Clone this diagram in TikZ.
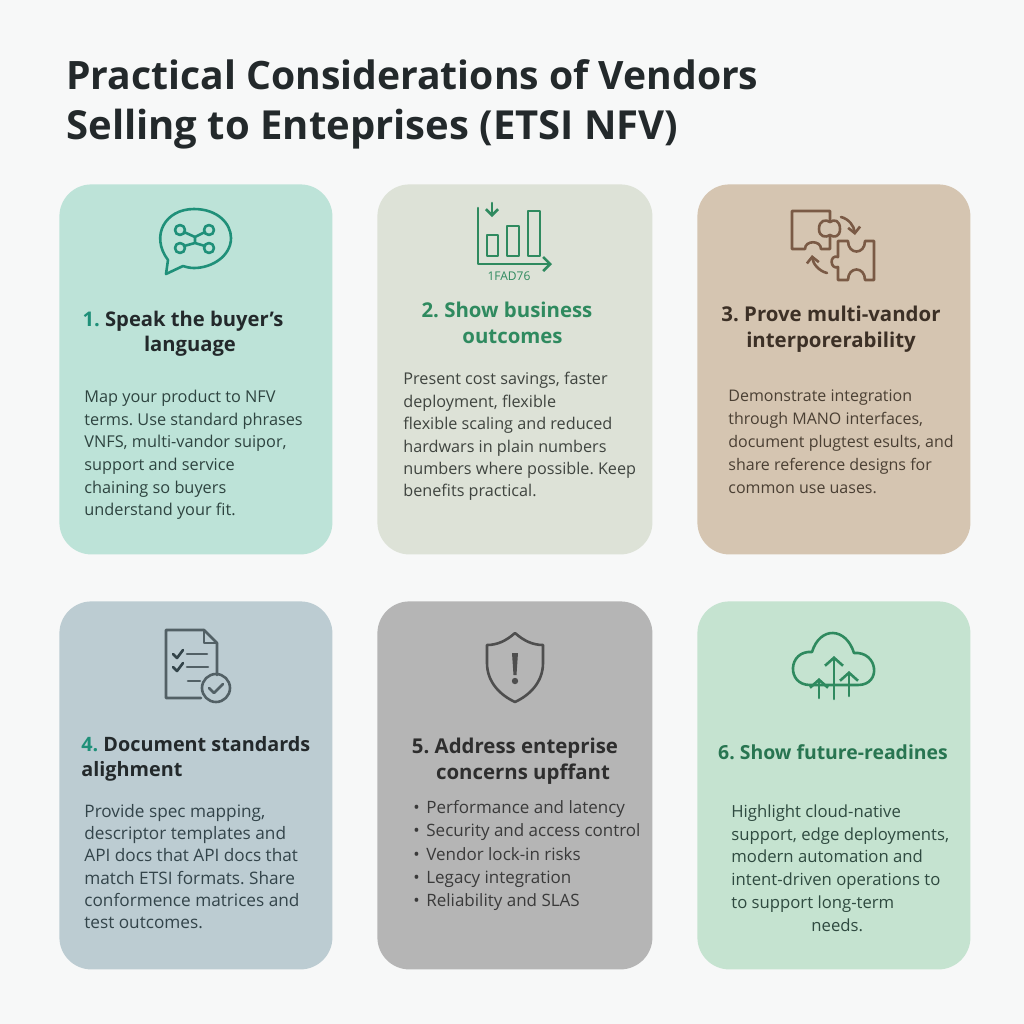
\documentclass[tikz,border=0pt]{standalone}
\usepackage{fontspec}
\setmainfont{Open Sans}
\frenchspacing
\usetikzlibrary{arrows.meta}
\definecolor{pagebg}{HTML}{F7F8F8}
\definecolor{ink}{HTML}{23292B}
\definecolor{cardmint}{HTML}{BDE3D8}
\definecolor{cardsage}{HTML}{DDE2D7}
\definecolor{cardsand}{HTML}{D5C5B1}
\definecolor{cardslate}{HTML}{BCCCD2}
\definecolor{cardgrey}{HTML}{B5B5B5}
\definecolor{cardleaf}{HTML}{C5E3D0}
\definecolor{teal}{HTML}{1F9079}
\definecolor{leaf}{HTML}{2F8A5F}
\definecolor{brown}{HTML}{3C3026}
\definecolor{umber}{HTML}{7A5A45}
\definecolor{inkA}{HTML}{2E4440}
\definecolor{inkB}{HTML}{3F443F}
\definecolor{inkC}{HTML}{4A3F33}
\definecolor{inkD}{HTML}{33444A}
\definecolor{inkE}{HTML}{3A3A3A}
\definecolor{inkF}{HTML}{2F4A40}
\tikzset{
  card/.style={rounded corners=16pt, draw=none, anchor=north west, inner sep=0pt},
  head/.style={font=\fontsize{#1}{12.7}\selectfont\bfseries, align=center, inner sep=0pt},
  head/.default=10.2,
  headl/.style={font=\fontsize{9.9}{12.7}\selectfont\bfseries, align=left, inner sep=0pt, anchor=north west},
  body/.style 2 args={font=\fontsize{#1}{#2}\selectfont, align=left, inner sep=0pt, anchor=north west},
  icon/.style={line width=1.3pt, line cap=round, line join=round},
}
\begin{document}
\begin{tikzpicture}[x=0.5pt,y=-0.5pt]
  \useasboundingbox[fill=pagebg] (0,0) rectangle (1024,1024);

  \node[anchor=north west, inner sep=0pt, align=left, text=ink,
    font=\fontsize{19.55}{25}\selectfont\bfseries] (title) at (66,59)
    {Practical Considerations of Vendors\\{\fontsize{20}{25}\selectfont Selling to Enteprises (ETSI NFV)}};

  \node[card, fill=cardmint, minimum width=136.5pt, minimum height=185pt] (cardA) at (59,184) {};
  \node[card, fill=cardsage, minimum width=137.5pt, minimum height=185pt] (cardB) at (377,184) {};
  \node[card, fill=cardsand, minimum width=136.5pt, minimum height=185pt] (cardC) at (697,184) {};
  \node[card, fill=cardslate, minimum width=136.5pt, minimum height=184pt] (cardD) at (59,601) {};
  \node[card, fill=cardgrey, minimum width=137.5pt, minimum height=184pt] (cardE) at (377,601) {};
  \node[card, fill=cardleaf, minimum width=136.5pt, minimum height=184pt] (cardF) at (697,601) {};

  % speech bubble
  \draw[icon, draw=teal] (168,260) .. controls (150,236) and (165,209) .. (194,209)
    .. controls (218,209) and (231,224) .. (231,238)
    .. controls (231,256) and (212,268) .. (194,268)
    .. controls (190,268) and (186,267) .. (183,266) -- (166,274) -- cycle;
  \draw[icon, draw=teal] (184,232) -- (195,237) -- (205,232) (184,246) -- (195,243) -- (205,246) (195,237) -- (195,243);
  \draw[icon, draw=teal] (180,230) circle (5) (209,230) circle (5) (180,248) circle (5) (209,248) circle (5);

  % bar chart
  \draw[icon, draw=leaf, -{Straight Barb[length=3.5pt,width=7pt]}] (478,208) -- (478,264) -- (552,264);
  \draw[icon, draw=leaf] (487,235) rectangle (498,256) (507,226) rectangle (519,256) (528,211) rectangle (540,256);
  \draw[icon, draw=leaf, -{Straight Barb[length=3pt,width=6pt]}] (492,203) -- (492,217);
  \node[font=\fontsize{6}{7}\selectfont, text=leaf, inner sep=0pt] (code) at (509,276) {1FAD76};

  % puzzle pieces
  \draw[icon, draw=umber] (830,222) -- (830,211) -- (792,211) -- (792,249) -- (805,249)
    .. controls (805,240) and (821,240) .. (821,249) -- (830,249) -- (830,235);
  \draw[icon, draw=umber] (830,222) .. controls (834,219) and (840,220) .. (840,229)
    .. controls (840,237) and (834,238) .. (830,235)
    .. controls (826,238) and (819,237) .. (819,229) .. controls (819,220) and (826,219) .. (830,222) -- cycle;
  \draw[icon, draw=umber] (838,241) -- (848,241) .. controls (848,255) and (865,255) .. (865,241) -- (874,241)
    -- (874,280) -- (865,280) .. controls (865,266) and (848,266) .. (848,280) -- (838,280) -- (838,267)
    .. controls (830,270) and (829,254) .. (838,257) -- cycle;
  \draw[icon, draw=umber, -{Straight Barb[length=3pt,width=6pt]}] (841,217) .. controls (849,219) and (854,226) .. (855,235);
  \draw[icon, draw=umber, -{Straight Barb[length=3pt,width=6pt]}] (827,273) .. controls (819,271) and (813,264) .. (812,255);

  % checklist
  \draw[icon, draw=inkD!85] (201,698) -- (166,698) -- (166,630) -- (204,630) -- (217,643) -- (217,675);
  \draw[icon, draw=inkD!85] (204,630) -- (204,643) -- (217,643);
  \draw[icon, draw=inkD] (173,654) -- (177,658) -- (183,650) (173,667) -- (177,671) -- (183,663);
  \draw[icon, draw=inkD!85] (187,654) -- (207,654) (187,667) -- (208,667) (188,681) -- (200,681);
  \draw[icon, draw=inkD!85] (216,688) circle (14);
  \draw[icon, draw=inkD!85] (209,688) -- (214,693) -- (223,684);

  % shield
  \draw[icon, draw=inkE!90] (515,633) .. controls (506,641) and (497,645) .. (487,645) -- (487,663)
    .. controls (487,682) and (500,695) .. (515,702) .. controls (530,695) and (543,682) .. (543,663)
    -- (543,645) .. controls (533,645) and (524,641) .. (515,633) -- cycle;
  \fill[inkE!90] (512,653) -- (518,653) -- (516.5,675) -- (513.5,675) -- cycle;
  \fill[inkE!90] (515,681) circle (3.2);

  % cloud
  \draw[icon, draw=leaf] (810,685) .. controls (786,685) and (788,650) .. (812,652)
    .. controls (820,626) and (846,627) .. (854,653)
    .. controls (878,651) and (882,685) .. (858,685) -- cycle;
  \draw[icon, draw=leaf, -{Straight Barb[length=4pt,width=9pt]}] (819,698) -- (819,678);
  \draw[icon, draw=leaf, -{Straight Barb[length=4pt,width=9pt]}] (834,699) -- (834,656);
  \draw[icon, draw=leaf, -{Straight Barb[length=4pt,width=9pt]}] (849,696) -- (849,671);

  \node[head=10.1, text=ink] (headA) at (183,334) {\textcolor{teal}{1.} Speak the buyer’s\\\hspace*{7pt}language};
  \node[head, text=leaf] (headB) at (507,323) {2. Show business\\\hspace*{5.5pt}outcomes};
  \node[head, text=brown] (headC) at (831,329) {3. Prove multi-vandor\\interporerability};
  \node[headl, text=ink] (headD) at (81,736) {\textcolor{teal}{4.} Document standards\\alighment};
  \node[head, text=inkE!80!black] (headE) at (515,761) {5. Address enteprise\\\hspace*{8pt}concerns upffant};
  \node[head=9.7, text=leaf!85!black] (headF) at (833,752) {6. Show future-readines};

  \node[body={8.15}{11.3}, text=inkA] (bodyA) at (84,390) {Map your product to NFV\\terms. Use standard phrases\\VNFS, multi-vandor suipor,\\support and service\\chaining so buyers\\understand your fit.};
  \node[body={8.1}{11.2}, text=inkB] (bodyB) at (403,372) {Present cost savings, faster\\deployment, flexible\\flexible scaling and reduced\\hardwars in plain numbers\\numbers where possible. Keep\\benefits practical.};
  \node[body={8}{11.5}, text=inkC] (bodyC) at (728,389) {Demonstrate integration\\through MANO interfaces,\\document plugtest esults, and\\share reference designs for\\common use uases.};
  \node[body={8.6}{11.1}, text=inkD] (bodyD) at (84,804) {Provide spec mapping,\\descriptor templates and\\API docs that API docs that\\match ETSI formats. Share\\conformence matrices and\\test outcomes.};
  \node[body={8.5}{11.65}, text=inkE] (bodyE) at (413,800) {\makebox[6.5pt][l]{•}Performance and latency\\\makebox[6.5pt][l]{•}Security and access control\\\makebox[6.5pt][l]{•}Vendor lock-in risks\\\makebox[6.5pt][l]{•}Legacy integration\\\makebox[6.5pt][l]{•}Reliability and SLAS};
  \node[body={8.35}{11.45}, text=inkF] (bodyF) at (731,804) {Highlight cloud-native\\support, edge deployments,\\modern automation and\\intent-driven operations to\\to support long-term\\\hspace*{40pt}needs.};
\end{tikzpicture}
\end{document}
